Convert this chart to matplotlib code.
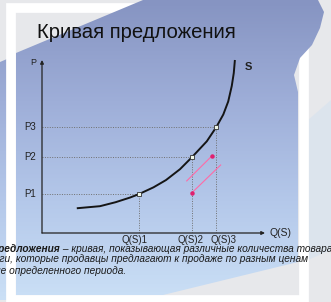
import numpy as np
import matplotlib
matplotlib.use("Agg")
import matplotlib.pyplot as plt
from matplotlib.colors import LinearSegmentedColormap
from matplotlib.patches import Polygon, Rectangle

plt.rcParams['font.family'] = ['Liberation Sans', 'DejaVu Sans']

# supply curve (chart units 0..10 on both axes)
curve_q = [1.56, 2.60, 3.30, 3.95, 4.35, 5.00, 5.56, 6.19, 6.73, 7.39, 7.82, 8.13, 8.35, 8.51, 8.60, 8.65]
curve_p = [1.43, 1.55, 1.78, 2.05, 2.25, 2.64, 3.06, 3.69, 4.39, 5.30, 6.13, 6.85, 7.60, 8.50, 9.25, 10.0]

# marked points on the curve
point_q = [4.35, 6.73, 7.82]
point_p = [2.25, 4.39, 6.13]
p_labels = ["P1", "P2", "P3"]
q_labels = ["Q(S)1", "Q(S)2", "Q(S)3"]
q_label_pos = [4.13, 6.66, 8.14]

# two pink shift arrows (start q, start p, end q, end p)
shift_q0 = [6.49, 6.71]
shift_p0 = [3.01, 2.31]
shift_q1 = [7.63, 8.01]
shift_p1 = [4.47, 3.93]
shift_dot_end = [True, False]

title = "Кривая предложения"
def_bold = "Кривая предложения"
def_line1 = " – кривая, показывающая различные количества товара"
def_line2 = "и услуги, которые продавцы предлагают к продаже по разным ценам"
def_line3 = "в течение определенного периода."

W, H = 331, 302
fig = plt.figure(figsize=(W / 100, H / 100), dpi=100)
fig.patch.set_facecolor("#e7e8eb")

# slide background in pixel coordinates
bg = fig.add_axes([0, 0, 1, 1])
bg.set_xlim(0, W)
bg.set_ylim(H, 0)
bg.axis("off")

blue = LinearSegmentedColormap.from_list("brush", ["#8694c2", "#9eaed8", "#b4c8ea", "#cbe0f6"])
grad = np.linspace(0, 1, 200)[:, None] * np.ones((1, 10))

def brush(verts, z):
    poly = Polygon(verts, closed=True, fc="none", ec="none")
    bg.add_patch(poly)
    im = bg.imshow(grad, extent=(0, W, H, 0), cmap=blue, aspect="auto", zorder=z)
    im.set_clip_path(poly)

# blue strip left of the frame
brush([(0, 62), (7, 59), (7, 300), (0, 300)], 1)
# white frame
bg.add_patch(Rectangle((10.5, 8), 293, 292, fill=False, ec="white", lw=7, zorder=2))
# main brush stroke over the panel
brush([(16, 53), (143, 0), (318, 0), (324, 12), (320, 28), (312, 45), (300, 58),
       (294, 75), (298, 92), (298, 262), (163, 295), (16, 295)], 3)
# faint cloud right of frame
bg.add_patch(Polygon([(308, 120), (331, 100), (331, 250), (308, 260)], closed=True,
                     fc="#d6e2ef", ec="none", alpha=0.6, zorder=1))

bg.text(37, 33, title, fontsize=14.6, color="#111111", ha="left", va="center", zorder=5)

tkw = dict(fontsize=7.3, style="italic", color="#1a1a1a", va="center", zorder=5)
bg.text(60, 248.5, def_bold, ha="right", weight="bold", **tkw)
bg.text(60, 248.5, def_line1, ha="left", **tkw)
bg.text(308, 259.5, def_line2, ha="right", **tkw)
bg.text(126, 270.5, def_line3, ha="right", **tkw)

# chart
ax = fig.add_axes([42 / W, 69 / H, 223 / W, 173 / H])
ax.set_xlim(0, 10)
ax.set_ylim(0, 10)
ax.axis("off")
ax.patch.set_alpha(0)

akw = dict(arrowstyle="-|>", lw=0.9, color="#222222", mutation_scale=5, shrinkA=0, shrinkB=0)
ax.annotate("", xy=(10, 0), xytext=(0, 0), arrowprops=akw, annotation_clip=False)
ax.annotate("", xy=(0, 10), xytext=(0, 0), arrowprops=akw, annotation_clip=False)

dot = (0, (1, 1.5))
for q, p, pl, ql, qx in zip(point_q, point_p, p_labels, q_labels, q_label_pos):
    ax.plot([0, q], [p, p], ls=dot, color="#707070", lw=0.7)
    ax.plot([q, q], [0, p], ls=dot, color="#707070", lw=0.7)
    ax.text(-0.25, p, pl, ha="right", va="center", fontsize=7, color="#222222")
    ax.text(qx, -0.38, ql, ha="center", va="center", fontsize=7, color="#222222")

ax.plot(curve_q, curve_p, color="#151515", lw=1.4, solid_capstyle="butt", clip_on=False)
ax.plot(point_q, point_p, "s", ms=3, mfc="#eef6e6", mec="#333333", mew=0.6, zorder=4)

for q0, p0, q1, p1, at_end in zip(shift_q0, shift_p0, shift_q1, shift_p1, shift_dot_end):
    ax.plot([q0, q1], [p0, p1], color="#ff6aa6", lw=0.8)
    ax.plot([q1 if at_end else q0], [p1 if at_end else p0], "o", ms=2.2, color="#e0206f")

ax.text(-0.25, 9.88, "P", ha="right", va="center", fontsize=6.5, color="#222222")
ax.text(10.18, 0, "Q(S)", ha="left", va="center", fontsize=7.5, color="#222222")
ax.text(9.1, 9.6, "S", ha="left", va="center", fontsize=8, weight="bold", color="#222222")

fig.savefig("out.png", dpi=100)
